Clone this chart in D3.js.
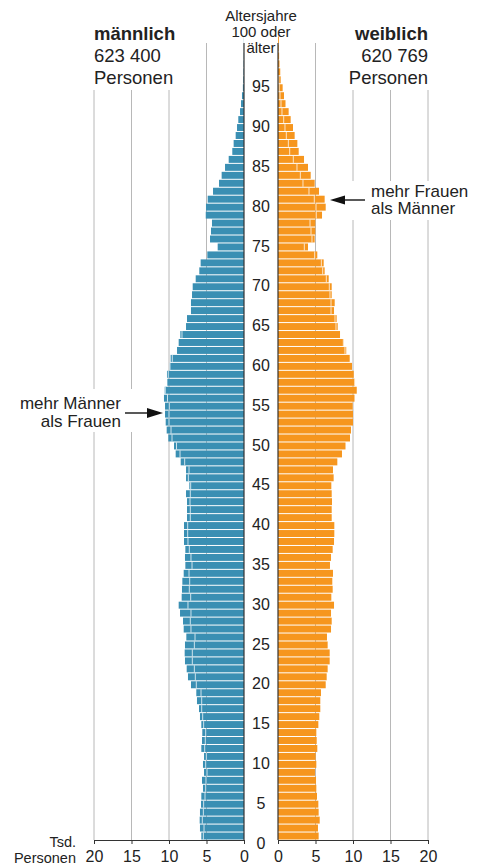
<!DOCTYPE html>
<html>
<head>
<meta charset="utf-8">
<script src="https://d3js.org/d3.v7.min.js"></script>
<style>
  html, body { margin: 0; padding: 0; background: #fff; }
  svg text { font-family: "Liberation Sans", Arial, sans-serif; fill: #222; }
</style>
</head>
<body>
<script>
// Alter 0 .. 100 (100 = 100 oder älter), Werte in Tsd. Personen
var ages = d3.range(0, 101);

var maleValues = [
  5.69, 5.87, 5.91, 5.87, 5.73, 5.69, 5.47, 5.6, 5.33, 5.47,
  5.33, 5.69, 5.6, 5.56, 5.69, 5.87, 6.0, 6.27, 6.36, 7.07,
  7.47, 7.64, 7.87, 7.91, 7.87, 7.69, 8.04, 8.13, 8.53, 8.71,
  8.31, 8.27, 8.22, 8.04, 7.82, 7.87, 7.82, 8.0, 8.0, 8.0,
  7.6, 7.6, 7.6, 7.73, 7.29, 7.73, 7.73, 8.44, 9.11, 9.33,
  10.09, 10.31, 10.44, 10.53, 10.53, 10.67, 10.58, 10.22, 10.27, 9.91,
  9.78, 8.93, 8.71, 8.49, 7.73, 7.6, 7.07, 7.07, 6.93, 6.84,
  6.44, 5.96, 5.78, 4.89, 3.51, 4.53, 4.4, 4.27, 5.1, 5.07,
  4.84, 4.13, 3.33, 2.98, 2.53, 2.04, 1.56, 1.38, 1.11, 0.93,
  0.76, 0.53, 0.4, 0.27, 0.15, 0.1, 0.07, 0.05, 0.03, 0.02,
  0.02
];

var femaleValues = [
  5.42, 5.33, 5.56, 5.42, 5.38, 5.2, 5.11, 5.07, 4.93, 5.11,
  5.02, 5.24, 5.16, 5.11, 5.38, 5.51, 5.64, 5.64, 5.73, 6.36,
  6.49, 6.62, 6.89, 6.89, 6.62, 6.53, 7.07, 7.16, 7.07, 7.47,
  7.11, 7.29, 7.24, 7.33, 6.93, 7.07, 7.29, 7.47, 7.51, 7.51,
  7.16, 7.16, 7.2, 7.16, 7.11, 7.42, 7.33, 7.91, 8.53, 9.0,
  9.6, 9.73, 10.0, 10.0, 9.96, 10.2, 10.5, 10.27, 10.1, 9.87,
  9.56, 9.1, 8.76, 8.27, 7.96, 7.82, 7.47, 7.56, 7.16, 7.16,
  6.76, 6.22, 6.09, 5.24, 4.0, 4.89, 4.98, 4.98, 5.87, 6.36,
  6.22, 5.47, 4.89, 4.36, 4.0, 3.47, 2.76, 2.58, 2.22, 2.0,
  1.69, 1.42, 1.0, 0.8, 0.62, 0.36, 0.3, 0.2, 0.15, 0.1,
  0.12
];

var xTicks = [0, 5, 10, 15, 20];
var ageTicks = d3.range(0, 100, 5);

var maleHeader = ['männlich', '623 400', 'Personen'];
var femaleHeader = ['weiblich', '620 769', 'Personen'];
var centerHeader = ['Altersjahre', '100 oder', 'älter'];
var maleNote = ['mehr Männer', 'als Frauen'];
var femaleNote = ['mehr Frauen', 'als Männer'];

(function () {
  var W = 479, H = 865;
  var blue = '#3a8fb3', orange = '#f6961e';
  var gridColor = '#b8b8b8', dark = '#333';

  var svg = d3.select('body').append('svg')
    .attr('width', W).attr('height', H);

  var xM = d3.scaleLinear().domain([0, 20]).range([244, 94]);
  var xF = d3.scaleLinear().domain([0, 20]).range([278, 428]);
  var y = d3.scaleLinear().domain([0, 101]).range([840, 36]);

  // gridlines
  var grid = svg.append('g');
  [xM, xF].forEach(function (sc) {
    grid.selectAll(null)
      .data(xTicks.slice(1))
      .enter()
      .append('line')
      .attr('x1', function (d) { return sc(d); })
      .attr('x2', function (d) { return sc(d); })
      .attr('y1', function (d) { return d === 5 ? 43 : 90; })
      .attr('y2', 840)
      .attr('stroke', gridColor)
      .attr('stroke-width', 1);
  });

  // white boxes behind annotations
  svg.append('rect').attr('x', 340).attr('y', 181).attr('width', 139).attr('height', 39).attr('fill', '#fff');
  svg.append('rect').attr('x', 0).attr('y', 389).attr('width', 168).attr('height', 43).attr('fill', '#fff');

  function bandTop(i) { return y(i + 1) + 0.5; }
  function bandH(i) { return y(i) - y(i + 1) - 1; }

  // male bars
  svg.append('g').selectAll('rect')
    .data(ages)
    .enter()
    .append('rect')
    .attr('x', function (i) { return xM(maleValues[i]); })
    .attr('y', bandTop)
    .attr('width', function (i) { return xM(0) - xM(maleValues[i]); })
    .attr('height', bandH)
    .attr('fill', blue);

  // female bars
  svg.append('g').selectAll('rect')
    .data(ages)
    .enter()
    .append('rect')
    .attr('x', xF(0))
    .attr('y', bandTop)
    .attr('width', function (i) { return xF(femaleValues[i]) - xF(0); })
    .attr('height', bandH)
    .attr('fill', orange);

  // markers for the other sex value (Ueberschuss)
  svg.append('g').selectAll('line')
    .data(ages.filter(function (i) { return femaleValues[i] < maleValues[i] && maleValues[i] > 0.3; }))
    .enter()
    .append('line')
    .attr('x1', function (i) { return xM(femaleValues[i]); })
    .attr('x2', function (i) { return xM(femaleValues[i]); })
    .attr('y1', bandTop)
    .attr('y2', function (i) { return bandTop(i) + bandH(i); })
    .attr('stroke', '#fff').attr('stroke-opacity', 0.75).attr('stroke-width', 1);

  svg.append('g').selectAll('line')
    .data(ages.filter(function (i) { return maleValues[i] < femaleValues[i] && femaleValues[i] > 0.3; }))
    .enter()
    .append('line')
    .attr('x1', function (i) { return xF(maleValues[i]); })
    .attr('x2', function (i) { return xF(maleValues[i]); })
    .attr('y1', bandTop)
    .attr('y2', function (i) { return bandTop(i) + bandH(i); })
    .attr('stroke', '#fff').attr('stroke-opacity', 0.75).attr('stroke-width', 1);

  // center lines
  [244, 278].forEach(function (x) {
    svg.append('line').attr('x1', x).attr('x2', x).attr('y1', 43).attr('y2', 840)
      .attr('stroke', dark).attr('stroke-width', 1.2);
  });

  // bottom axes
  [xM, xF].forEach(function (sc) {
    var ax = svg.append('g')
      .attr('transform', 'translate(0,840)')
      .call(d3.axisBottom(sc).tickValues(xTicks).tickSize(4).tickSizeOuter(0));
    ax.select('.domain').attr('stroke', dark);
    ax.selectAll('.tick line').attr('stroke', dark);
    ax.selectAll('text')
      .attr('y', 11)
      .style('font-size', '16px')
      .style('font-family', '"Liberation Sans", Arial, sans-serif')
      .attr('fill', '#222');
  });

  svg.append('text').attr('x', 76).attr('y', 842).attr('dy', '0.35em')
    .attr('text-anchor', 'end').style('font-size', '14.5px').text('Tsd.');
  svg.append('text').attr('x', 76).attr('y', 857.5).attr('dy', '0.35em')
    .attr('text-anchor', 'end').style('font-size', '14.5px').text('Personen');

  // age labels
  svg.append('g').selectAll('text')
    .data(ageTicks)
    .enter()
    .append('text')
    .attr('x', 261)
    .attr('y', function (d) { return y(d) + 3; })
    .attr('dy', '0.35em')
    .attr('text-anchor', 'middle')
    .style('font-size', '16px')
    .text(function (d) { return d; });

  // headers
  maleHeader.forEach(function (t, i) {
    svg.append('text').attr('x', 94).attr('y', 39.5 + i * 22.3)
      .style('font-size', '18.5px').style('font-weight', i === 0 ? 'bold' : 'normal')
      .text(t);
  });
  femaleHeader.forEach(function (t, i) {
    svg.append('text').attr('x', 428).attr('y', 39.5 + i * 22.3)
      .attr('text-anchor', 'end')
      .style('font-size', '18.5px').style('font-weight', i === 0 ? 'bold' : 'normal')
      .text(t);
  });
  centerHeader.forEach(function (t, i) {
    svg.append('text').attr('x', 261).attr('y', 21 + i * 16)
      .attr('text-anchor', 'middle').style('font-size', '15px')
      .text(t);
  });

  // annotations
  maleNote.forEach(function (t, i) {
    svg.append('text').attr('x', 121).attr('y', 403 + i * 18).attr('dy', '0.35em')
      .attr('text-anchor', 'end').style('font-size', '17px').text(t);
  });
  femaleNote.forEach(function (t, i) {
    svg.append('text').attr('x', 371).attr('y', 191 + i * 17.5).attr('dy', '0.35em')
      .style('font-size', '17px').text(t);
  });

  function arrow(x1, x2, yy, headLen, headW) {
    var dir = x2 > x1 ? 1 : -1;
    var base = x2 - dir * headLen;
    svg.append('line').attr('x1', x1).attr('x2', base).attr('y1', yy).attr('y2', yy)
      .attr('stroke', '#222').attr('stroke-width', 1.5);
    svg.append('path')
      .attr('d', 'M' + x2 + ',' + yy + 'L' + base + ',' + (yy - headW / 2) + 'L' + base + ',' + (yy + headW / 2) + 'Z')
      .attr('fill', '#111');
  }
  arrow(125, 163, 413, 16, 10);
  arrow(365, 330, 200, 15, 9);
})();
</script>
</body>
</html>
